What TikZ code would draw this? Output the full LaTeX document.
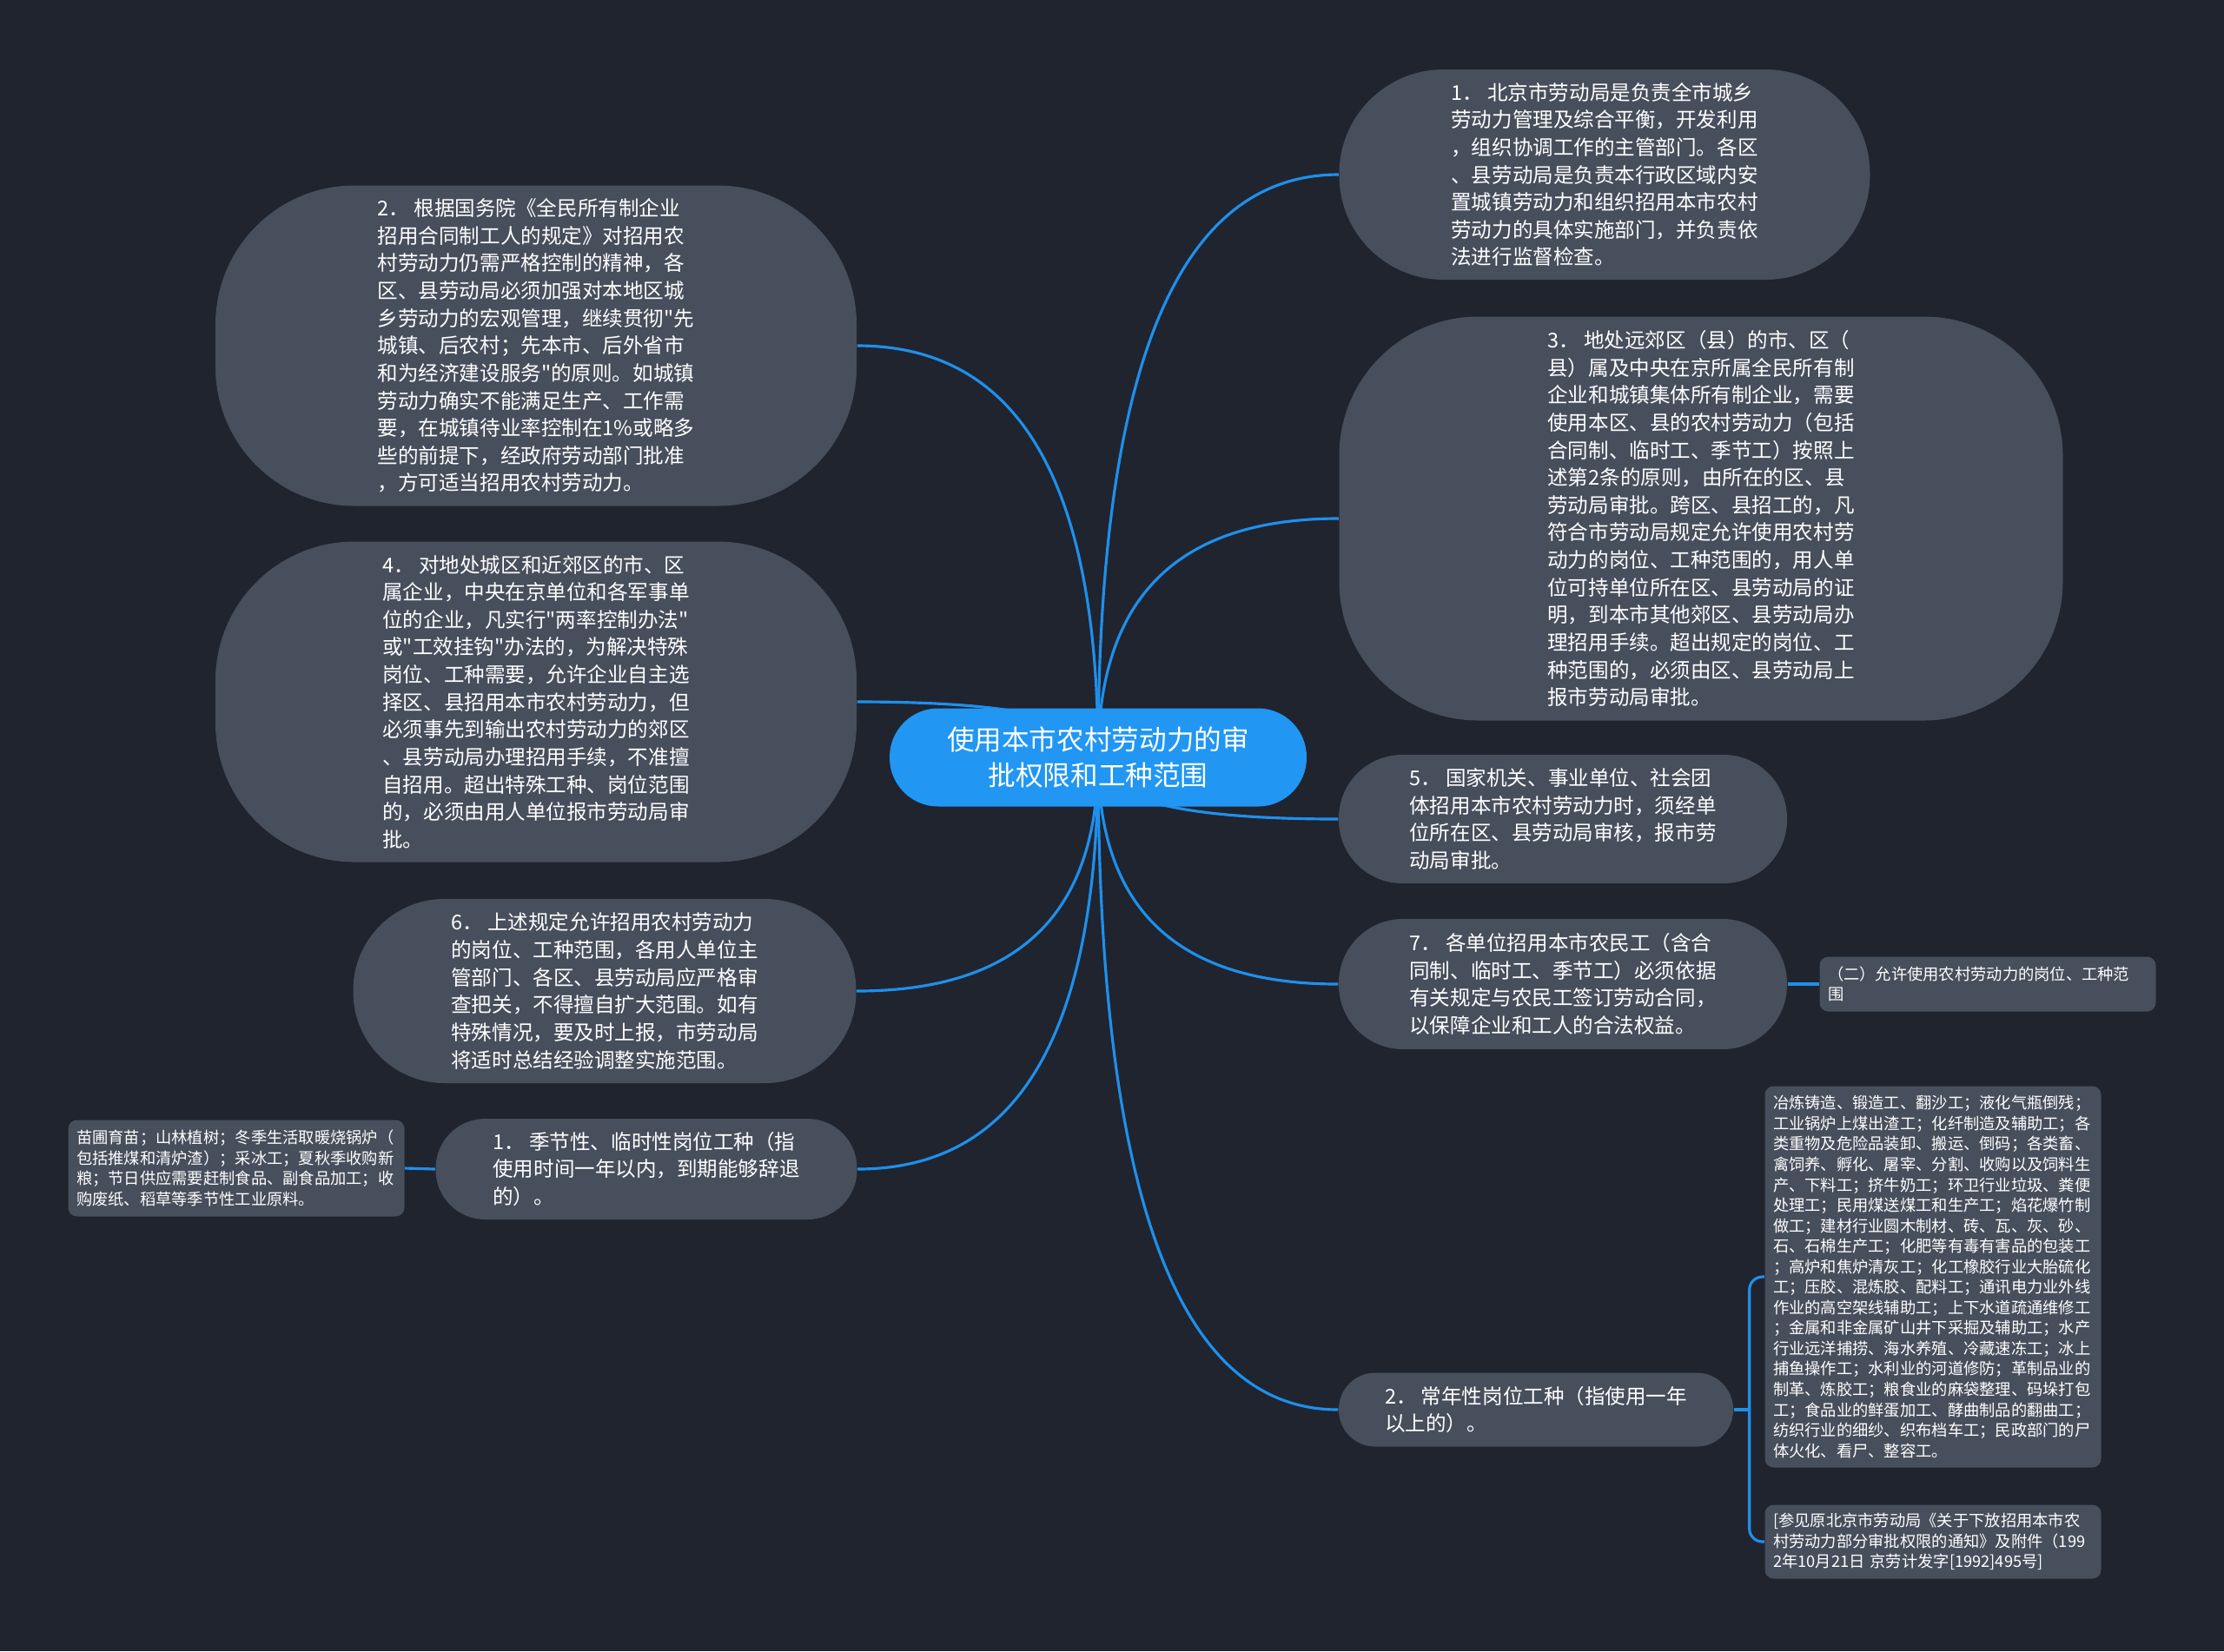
\documentclass[tikz,border=0pt]{standalone}
\usepackage{fontspec}
\setmainfont{Noto Sans CJK SC}[Ligatures=TeXOff]
\usetikzlibrary{calc,backgrounds}
\definecolor{bgdark}{RGB}{32,36,47}
\definecolor{topicgray}{RGB}{71,78,92}
\definecolor{hubblue}{RGB}{33,150,243}
\definecolor{linkblue}{RGB}{30,144,235}

\begin{document}
\begin{tikzpicture}[
    hub/.style={fill=hubblue, text=white, rounded corners=0.56cm, align=center,
                minimum width=4.8cm, minimum height=1.13cm, font=\fontsize{9}{11.7}\selectfont},
    topic/.style={fill=topicgray, text=white, rounded corners=#1, align=left,
                  inner sep=0pt, font=\fontsize{6.7}{9}\selectfont},
    leaf/.style={fill=topicgray, text=white, rounded corners=0.1cm, align=left,
                 text width=3.68cm, inner xsep=0.095cm, inner ysep=0pt,
                 font=\fontsize{5.2}{6.7}\selectfont},
    link/.style={draw=linkblue, line width=0.9pt},
    branch/.style={link, to path={.. controls ($(\tikztostart)!0.67!(\tikztostart |- \tikztotarget)$)
                   and ($(\tikztotarget)!0.67!(\tikztostart |- \tikztotarget)$) .. (\tikztotarget)}}
]
\node[hub] (policy) at (12.64,-8.72) {使用本市农村劳动力的审\\批权限和工种范围};

% right side
\node[topic=1.2cm, minimum width=6.11cm, minimum height=2.42cm] (bureau) at (18.47,-2.01) {1． 北京市劳动局是负责全市城乡\\劳动力管理及综合平衡，开发利用\\，组织协调工作的主管部门。各区\\、县劳动局是负责本行政区域内安\\置城镇劳动力和组织招用本市农村\\劳动力的具体实施部门，并负责依\\法进行监督检查。};
\node[topic=1.6cm, minimum width=8.33cm, minimum height=4.65cm] (suburb) at (19.58,-5.97) {3． 地处远郊区（县）的市、区（\\县）属及中央在京所属全民所有制\\企业和城镇集体所有制企业，需要\\使用本区、县的农村劳动力（包括\\合同制、临时工、季节工）按照上\\述第2条的原则，由所在的区、县\\劳动局审批。跨区、县招工的，凡\\符合市劳动局规定允许使用农村劳\\动力的岗位、工种范围的，用人单\\位可持单位所在区、县劳动局的证\\明，到本市其他郊区、县劳动局办\\理招用手续。超出规定的岗位、工\\种范围的，必须由区、县劳动局上\\报市劳动局审批。};
\node[topic=0.73cm, minimum width=5.16cm, minimum height=1.48cm] (organs) at (17.99,-9.43) {5． 国家机关、事业单位、社会团\\体招用本市农村劳动力时，须经单\\位所在区、县劳动局审核，报市劳\\动局审批。};
\node[topic=0.74cm, minimum width=5.16cm, minimum height=1.5cm] (contract) at (17.99,-11.33) {7． 各单位招用本市农民工（含合\\同制、临时工、季节工）必须依据\\有关规定与农民工签订劳动合同，\\以保障企业和工人的合法权益。};
\node[leaf, minimum height=0.63cm] (scope) at (22.88,-11.33) {（二）允许使用农村劳动力的岗位、工种范\\围};
\node[topic=0.42cm, minimum width=4.54cm, minimum height=0.85cm] (yearly) at (17.68,-16.23) {2． 常年性岗位工种（指使用一年\\以上的）。};
\node[leaf, minimum height=4.39cm] (jobs) at (22.25,-14.7) {冶炼铸造、锻造工、翻沙工；液化气瓶倒残；\\工业锅炉上煤出渣工；化纤制造及辅助工；各\\类重物及危险品装卸、搬运、倒码；各类畜、\\禽饲养、孵化、屠宰、分割、收购以及饲料生\\产、下料工；挤牛奶工；环卫行业垃圾、粪便\\处理工；民用煤送煤工和生产工；焰花爆竹制\\做工；建材行业圆木制材、砖、瓦、灰、砂、\\石、石棉生产工；化肥等有毒有害品的包装工\\；高炉和焦炉清灰工；化工橡胶行业大胎硫化\\工；压胶、混炼胶、配料工；通讯电力业外线\\作业的高空架线辅助工；上下水道疏通维修工\\；金属和非金属矿山井下采掘及辅助工；水产\\行业远洋捕捞、海水养殖、冷藏速冻工；冰上\\捕鱼操作工；水利业的河道修防；革制品业的\\制革、炼胶工；粮食业的麻袋整理、码垛打包\\工；食品业的鲜蛋加工、酵曲制品的翻曲工；\\纺织行业的细纱、织布档车工；民政部门的尸\\体火化、看尸、整容工。};
\node[leaf, minimum height=0.85cm] (source) at (22.25,-17.75) {[参见原北京市劳动局《关于下放招用本市农\\村劳动力部分审批权限的通知》及附件（199\\2年10月21日 京劳计发字[1992]495号]};

% left side
\node[topic=1.6cm, minimum width=7.38cm, minimum height=3.69cm] (control) at (6.17,-3.98) {2． 根据国务院《全民所有制企业\\招用合同制工人的规定》对招用农\\村劳动力仍需严格控制的精神，各\\区、县劳动局必须加强对本地区城\\乡劳动力的宏观管理，继续贯彻"先\\城镇、后农村；先本市、后外省市\\和为经济建设服务"的原则。如城镇\\劳动力确实不能满足生产、工作需\\要，在城镇待业率控制在1\%或略多\\些的前提下，经政府劳动部门批准\\，方可适当招用农村劳动力。};
\node[topic=1.6cm, minimum width=7.38cm, minimum height=3.69cm] (urban) at (6.17,-8.08) {4． 对地处城区和近郊区的市、区\\属企业，中央在京单位和各军事单\\位的企业，凡实行"两率控制办法"\\或"工效挂钩"办法的，为解决特殊\\岗位、工种需要，允许企业自主选\\择区、县招用本市农村劳动力，但\\必须事先到输出农村劳动力的郊区\\、县劳动局办理招用手续，不准擅\\自招用。超出特殊工种、岗位范围\\的，必须由用人单位报市劳动局审\\批。};
\node[topic=1.05cm, minimum width=5.79cm, minimum height=2.12cm] (review) at (6.96,-11.41) {6． 上述规定允许招用农村劳动力\\的岗位、工种范围，各用人单位主\\管部门、各区、县劳动局应严格审\\查把关，不得擅自扩大范围。如有\\特殊情况，要及时上报，市劳动局\\将适时总结经验调整实施范围。};
\node[topic=0.57cm, minimum width=4.85cm, minimum height=1.16cm] (seasonal) at (7.44,-13.46) {1． 季节性、临时性岗位工种（指\\使用时间一年以内，到期能够辞退\\的）。};
\node[leaf, minimum height=1.11cm] (seasonjobs) at (2.72,-13.45) {苗圃育苗；山林植树；冬季生活取暖烧锅炉（\\包括推煤和清炉渣）；采冰工；夏秋季收购新\\粮；节日供应需要赶制食品、副食品加工；收\\购废纸、稻草等季节性工业原料。};

\begin{scope}[on background layer]
\fill[bgdark] (0,0) rectangle (25.6,-19.01);
\draw[branch] (policy.center) to (bureau.west);
\draw[branch] (policy.center) to (suburb.west);
\draw[branch] (policy.center) to (organs.west);
\draw[branch] (policy.center) to (contract.west);
\draw[branch] (policy.center) to (yearly.west);
\draw[branch] (policy.center) to (control.east);
\draw[branch] (policy.center) to (urban.east);
\draw[branch] (policy.center) to (review.east);
\draw[branch] (policy.center) to (seasonal.east);
\draw[link] (contract.east) -- (scope.west);
\draw[link] (seasonal.west) -- (seasonjobs.east);
\coordinate (fork) at ($(yearly.east)+(0.18,0)$);
\draw[link] (yearly.east) -- (fork);
\draw[link, rounded corners=0.15cm] (jobs.west) -| (fork) |- (source.west);
\end{scope}
\end{tikzpicture}
\end{document}
